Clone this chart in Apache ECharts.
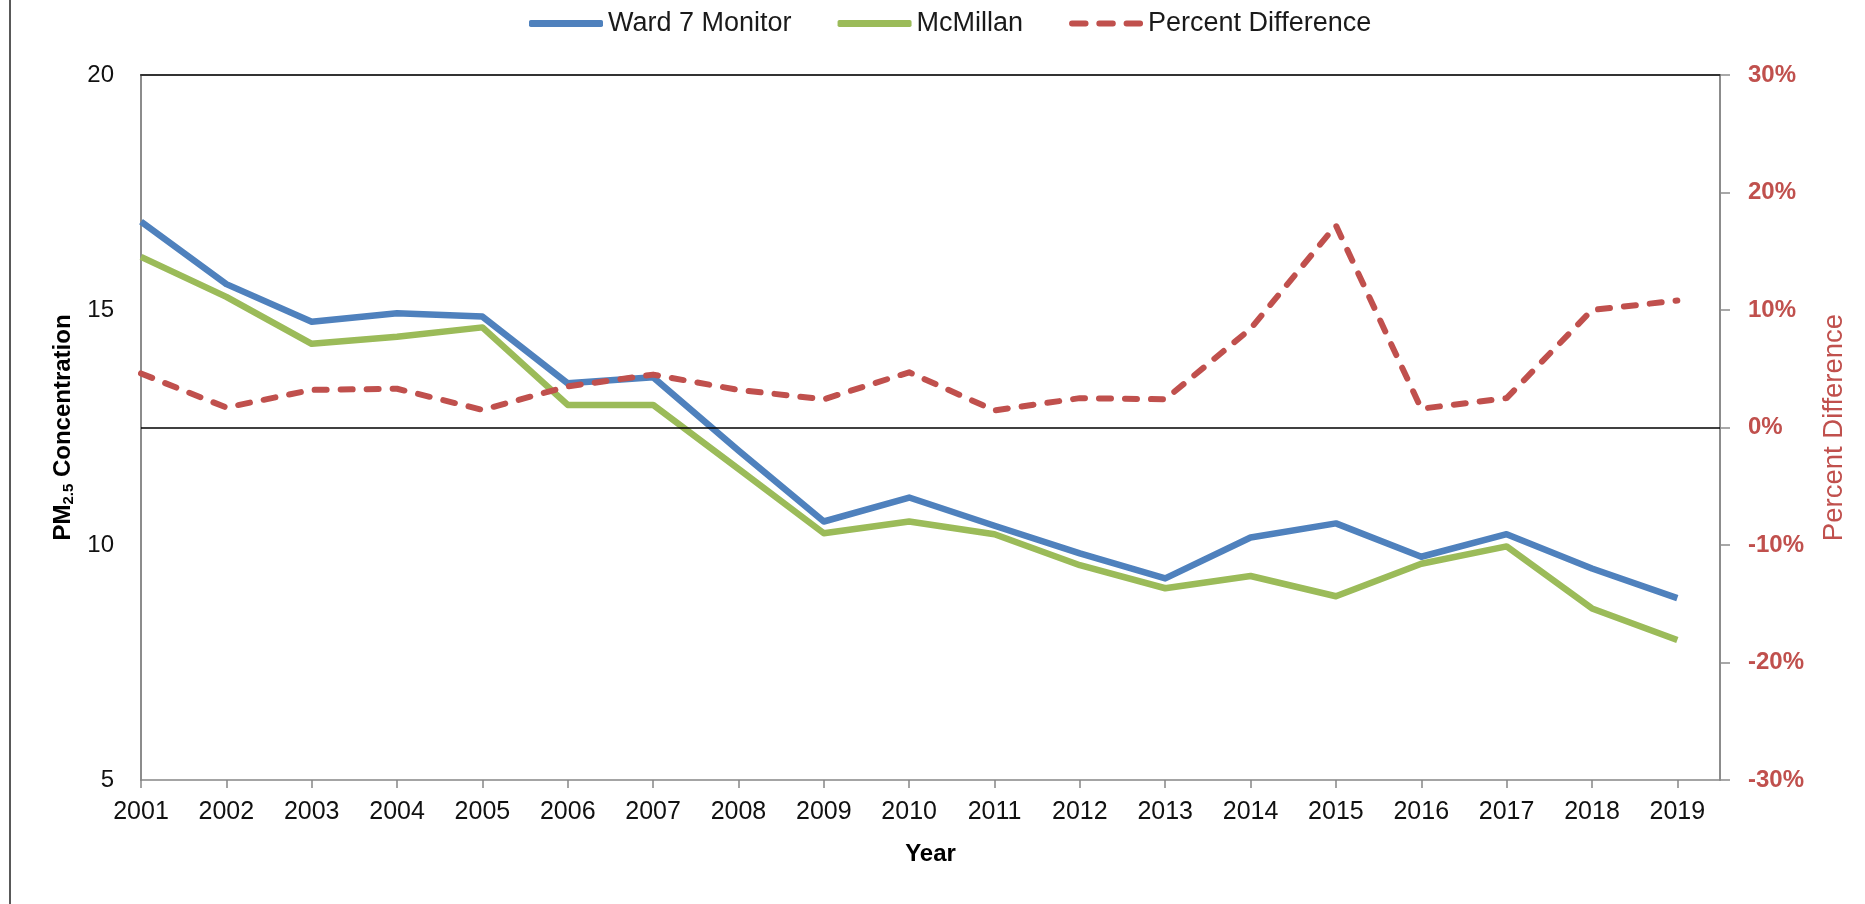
<!DOCTYPE html>
<html>
<head>
<meta charset="utf-8">
<script src="https://cdn.jsdelivr.net/npm/echarts@6/dist/echarts.min.js"></script>
<style>
  html, body { margin: 0; padding: 0; background: #fff; }
  #chart { width: 1865px; height: 904px; }
  #frame { position: absolute; left: 9px; top: 0; width: 2px; height: 904px; background: #595959; }
</style>
</head>
<body>
<div id="chart"></div>
<div id="frame"></div>
<script>
// values
const years = [2001, 2002, 2003, 2004, 2005, 2006, 2007, 2008, 2009, 2010,
               2011, 2012, 2013, 2014, 2015, 2016, 2017, 2018, 2019]
const ward7 = [16.88, 15.55, 14.75, 14.93, 14.86, 13.44, 13.57, 12.01, 10.50, 11.01,
               10.41, 9.82, 9.29, 10.16, 10.46, 9.75, 10.23, 9.50, 8.87]
const mcmillan = [16.13, 15.28, 14.28, 14.43, 14.63, 12.98, 12.98, 11.62, 10.25, 10.50,
                  10.23, 9.57, 9.08, 9.34, 8.91, 9.60, 9.97, 8.65, 7.98]
const pctDiff = [4.6, 1.7, 3.2, 3.3, 1.5, 3.5, 4.5, 3.2, 2.4, 4.7,
                 1.45, 2.5, 2.4, 8.4, 17.2, 1.6, 2.5, 10.0, 10.8]

const BLUE = '#4F81BD'
const GREEN = '#9BBB59'
const RED = '#C0504D'
const FONT = '"Liberation Sans", Arial, sans-serif'
const DASH_ICON = 'path://M3,0h14a3,3 0 0 1 0,6h-14a3,3 0 0 1 0,-6z' +
                  'M31,0h14a3,3 0 0 1 0,6h-14a3,3 0 0 1 0,-6z' +
                  'M59,0h14a3,3 0 0 1 0,6h-14a3,3 0 0 1 0,-6z'

function pairs(vals) {
  return years.map((y, i) => [y, vals[i]])
}

const chartDom = document.getElementById('chart')
const myChart = echarts.init(chartDom)
const option = {
  animation: false,
  textStyle: { fontFamily: FONT },
  legend: {
    top: 5,
    left: 524,
    itemWidth: 74,
    itemHeight: 7,
    itemGap: 46,
    textStyle: { fontSize: 27, color: '#1a1a1a', fontFamily: FONT },
    data: [
      { name: 'Ward 7 Monitor', icon: 'roundRect' },
      { name: 'McMillan', icon: 'roundRect' },
      { name: 'Percent Difference', icon: DASH_ICON }
    ]
  },
  grid: { left: 141, right: 145, top: 75, bottom: 124 },
  xAxis: [
    {
      type: 'value',
      min: 2001,
      max: 2019.5,
      interval: 1,
      name: 'Year',
      nameLocation: 'middle',
      nameGap: 62,
      nameTextStyle: { fontSize: 24, fontWeight: 'bold', color: '#000', fontFamily: FONT },
      axisLine: { onZero: false, lineStyle: { color: '#868686', width: 1.5 } },
      axisTick: { length: 8, lineStyle: { color: '#868686', width: 1.5 } },
      axisLabel: {
        fontSize: 25, color: '#111', margin: 20, showMaxLabel: false,
        formatter: v => (Number.isInteger(v) ? String(v) : '')
      },
      splitLine: { show: false }
    },
    {
      type: 'value',
      position: 'top',
      min: 2001,
      max: 2019.5,
      axisLine: { onZero: false, lineStyle: { color: '#333', width: 2 } },
      axisTick: { show: false },
      axisLabel: { show: false },
      splitLine: { show: false }
    }
  ],
  yAxis: [
    {
      type: 'value',
      min: 5,
      max: 20,
      interval: 5,
      name: '{b|PM}{s|2.5}{b| Concentration}',
      nameLocation: 'middle',
      nameGap: 57,
      nameTextStyle: {
        rich: {
          b: { fontSize: 24, fontWeight: 'bold', color: '#000', fontFamily: FONT },
          s: { fontSize: 15, fontWeight: 'bold', color: '#000', fontFamily: FONT, padding: [12, 0, 0, 0] }
        }
      },
      axisLine: { show: true, onZero: false, lineStyle: { color: '#8c8c8c', width: 2 } },
      axisTick: { show: false },
      axisLabel: { fontSize: 24, color: '#111', margin: 27 },
      splitLine: { show: false }
    },
    {
      type: 'value',
      min: -30,
      max: 30,
      interval: 10,
      position: 'right',
      name: 'Percent Difference',
      nameLocation: 'middle',
      nameGap: 100,
      nameRotate: 90,
      nameTextStyle: { fontSize: 27.5, color: RED, fontFamily: FONT },
      axisLine: { show: true, onZero: false, lineStyle: { color: '#8c8c8c', width: 2 } },
      axisTick: { show: true, length: 10, lineStyle: { color: '#8c8c8c', width: 1.5 } },
      axisLabel: { fontSize: 24, fontWeight: 'bold', color: RED, margin: 28, formatter: '{value}%' },
      splitLine: { show: false }
    }
  ],
  series: [
    {
      name: 'Ward 7 Monitor',
      type: 'line',
      yAxisIndex: 0,
      data: pairs(ward7),
      symbol: 'none',
      color: BLUE,
      lineStyle: { color: BLUE, width: 6.5, join: 'round' }
    },
    {
      name: 'McMillan',
      type: 'line',
      yAxisIndex: 0,
      data: pairs(mcmillan),
      symbol: 'none',
      color: GREEN,
      lineStyle: { color: GREEN, width: 6.5, join: 'round' }
    },
    {
      name: 'Percent Difference',
      type: 'line',
      yAxisIndex: 1,
      data: pairs(pctDiff),
      symbol: 'none',
      color: RED,
      lineStyle: { color: RED, width: 6, type: [12, 14], cap: 'round', join: 'round' },
      markLine: {
        silent: true,
        symbol: 'none',
        label: { show: false },
        lineStyle: { color: '#000', width: 1.5, type: 'solid' },
        data: [{ yAxis: 0 }]
      }
    }
  ]
}
option && myChart.setOption(option)
</script>
</body>
</html>
